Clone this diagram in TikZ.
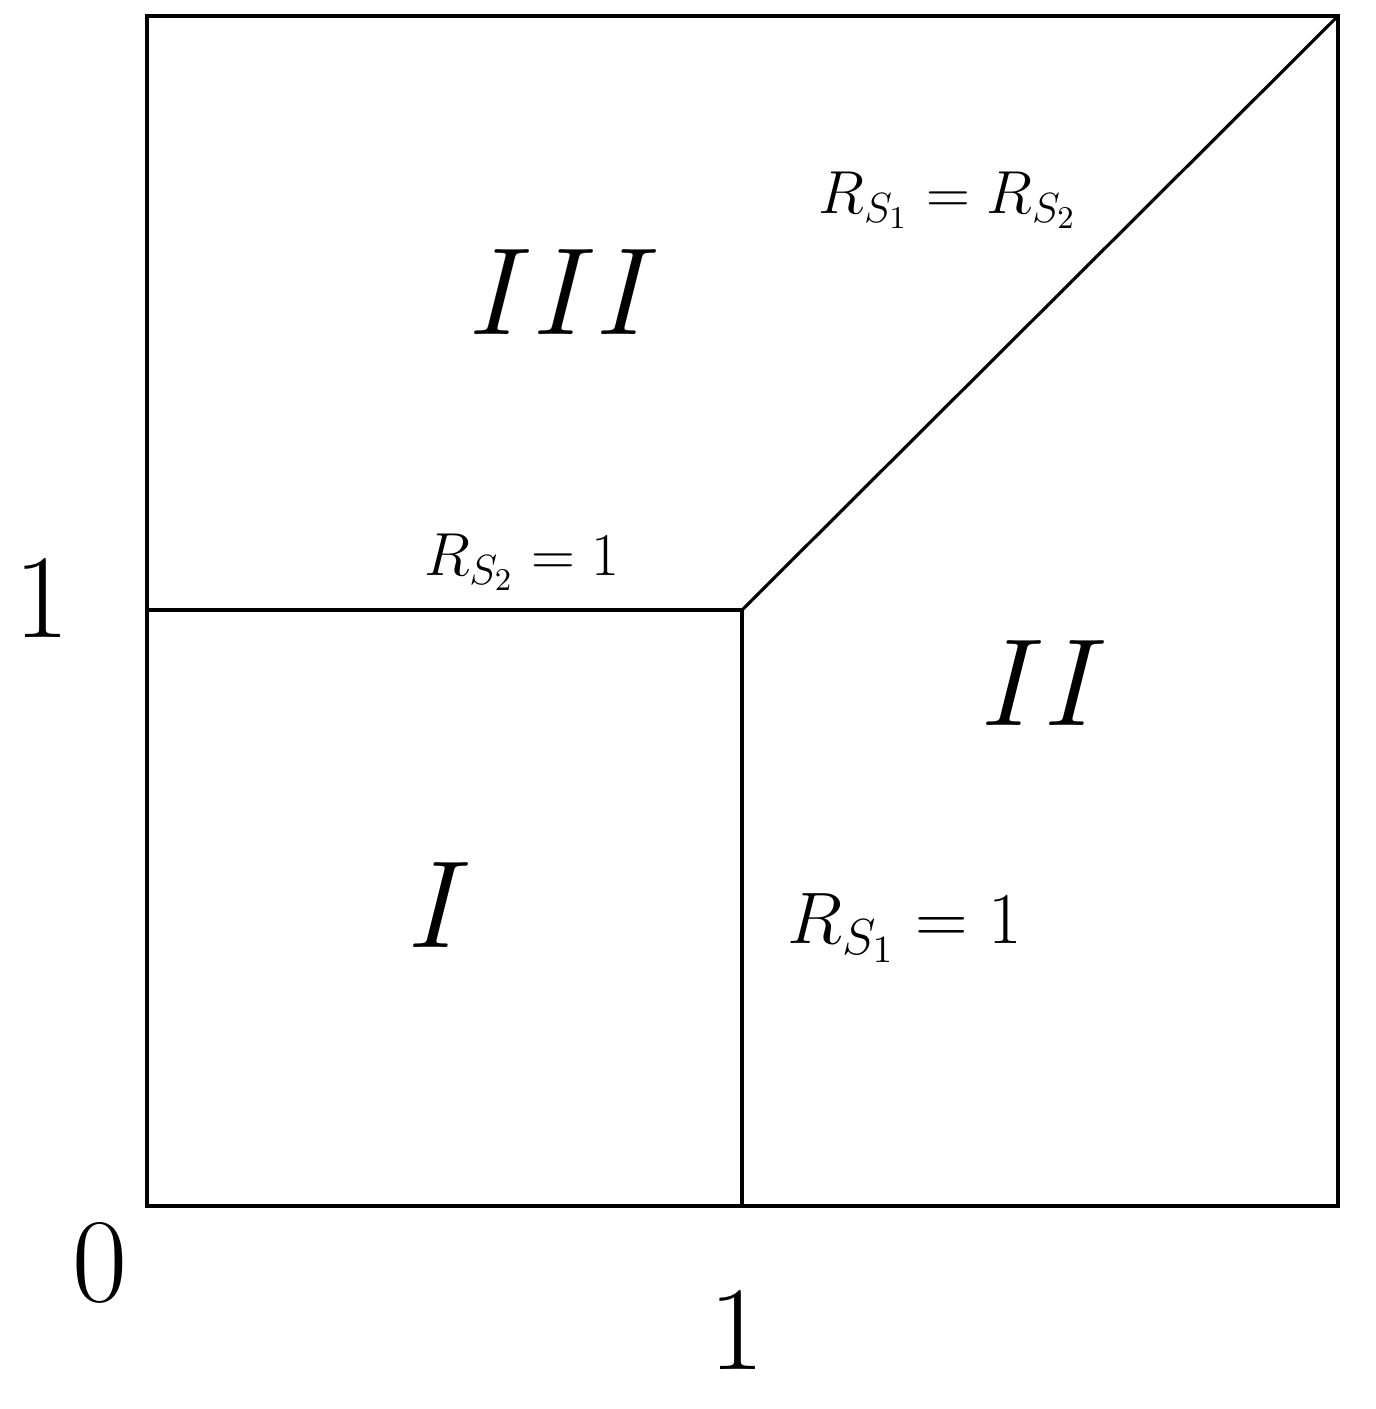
\documentclass[tikz,border=0pt]{standalone}
\usepackage{graphicx}
\begin{document}
\begin{tikzpicture}[x=0.01cm,y=-0.01cm,line width=0.9pt,
  big/.style={font=\fontsize{34}{40}\selectfont},
  roman/.style={font=\fontsize{34}{40}\selectfont},
  lab/.style={font=\fontsize{17.5}{20}\selectfont}]
\useasboundingbox (0,0) rectangle (1375,1409);
\coordinate (bl) at (147,1206);
\coordinate (tr) at (1338,16);
\coordinate (m) at (742,610);
\coordinate (ml) at (147,610);
\coordinate (mb) at (742,1206);
\draw (bl) rectangle (tr);
\draw (ml) -- (m) -- (mb);
\draw (m) -- (tr);
\node[big] (one) at (42,598) {1};
\node[big] (zero) at (100,1263) {0};
\node[big] (onex) at (737,1330) {1};
\node[roman] (r3) at (565,292) {\scalebox{1.42}{$III$}};
\node[roman] (r2) at (1045,683) {\scalebox{1.42}{$II$}};
\node[roman] (r1) at (440,905) {\scalebox{1.42}{$I$}};
\node[lab] (d) at (948,200) {$R_{S_1}=R_{S_2}$};
\node[lab] (h) at (522,562) {$R_{S_2}=1$};
\node[font=\fontsize{21.5}{25}\selectfont] (v) at (905,928) {$R_{S_1}=1$};
\end{tikzpicture}
\end{document}
